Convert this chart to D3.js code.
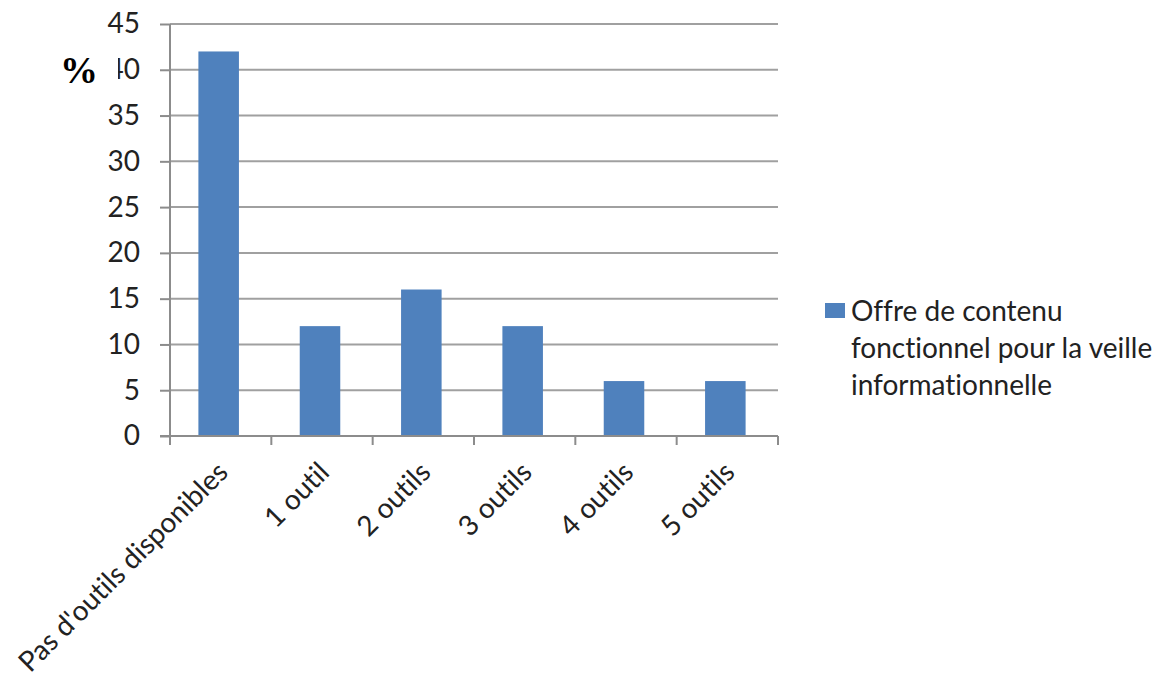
<!DOCTYPE html>
<html><head><meta charset="utf-8">
<script src="https://cdn.jsdelivr.net/npm/d3@7"></script>
<style>body{margin:0;background:#fff}svg{display:block}text{font-variant-ligatures:none;font-feature-settings:"liga" 0}</style>
</head><body>
<script>
const categories = ["Pas d'outils disponibles","1 outil","2 outils","3 outils","4 outils","5 outils"];
const values = [42, 12, 16, 12, 6, 6];
const yTicks = [0,5,10,15,20,25,30,35,40,45];
const seriesName = ["Offre de contenu","fonctionnel pour la veille","informationnelle"];
const yLabel = "%";

const W = 1167, H = 677;
const svg = d3.select("body").append("svg").attr("width", W).attr("height", H);
const font = "Lato, 'Open Sans', sans-serif";
const fs = 28;

const x = d3.scaleBand().domain(categories).range([170, 778]).paddingInner(0.6).paddingOuter(0.3);
const y = d3.scaleLinear().domain([0, 45]).range([436, 24]);

// gridlines
svg.append("g").selectAll("line").data(yTicks.filter(t => t > 0)).join("line")
  .attr("x1", 170).attr("x2", 778).attr("y1", d => y(d)).attr("y2", d => y(d))
  .attr("stroke", "#a0a0a0").attr("stroke-width", 2);

// y axis
const ya = svg.append("g").attr("transform", "translate(170,0)")
  .call(d3.axisLeft(y).tickValues(yTicks).tickSize(10).tickPadding(20));
ya.select(".domain").attr("stroke", "#8c8c8c").attr("stroke-width", 2).attr("d", `M0,${y(45)}V${y(0)}`);
ya.selectAll(".tick line").attr("stroke", "#8c8c8c").attr("stroke-width", 2);
ya.selectAll(".tick text").attr("font-family", font).attr("font-size", fs).attr("fill", "#222");

// bars
svg.append("g").selectAll("rect").data(values).join("rect")
  .attr("x", (d, i) => x(categories[i]) - 2).attr("width", x.bandwidth())
  .attr("y", d => y(d)).attr("height", d => y(0) - y(d))
  .attr("fill", "#4F81BD");

// x axis
const xEdges = d3.range(categories.length + 1).map(i => 170 + i * x.step());
svg.append("line").attr("x1", 160).attr("x2", 778).attr("y1", y(0)).attr("y2", y(0))
  .attr("stroke", "#8c8c8c").attr("stroke-width", 2);
svg.append("g").selectAll("line").data(xEdges).join("line")
  .attr("x1", d => d).attr("x2", d => d).attr("y1", y(0)).attr("y2", y(0) + 9)
  .attr("stroke", "#8c8c8c").attr("stroke-width", 2);
svg.append("g").selectAll("text").data(categories).join("text")
  .attr("transform", d => `translate(${x(d) + x.bandwidth() / 2 + 9},${y(0) + 38}) rotate(-45)`)
  .attr("text-anchor", "end").attr("font-family", font).attr("font-size", fs).attr("fill", "#222")
  .text(d => d);

// % label with white backing
svg.append("rect").attr("x", 52).attr("y", 50).attr("width", 66).attr("height", 38).attr("fill", "#fff");
svg.append("text").attr("x", 60).attr("y", 83).attr("font-family", "'Liberation Serif', 'Times New Roman', serif")
  .attr("font-weight", "bold").attr("font-size", 38).attr("fill", "#000").text(yLabel);

// legend
svg.append("rect").attr("x", 825).attr("y", 303).attr("width", 20).attr("height", 15).attr("fill", "#4F81BD");
svg.append("g").selectAll("text").data(seriesName).join("text")
  .attr("x", 851).attr("y", (d, i) => 321 + i * 37)
  .attr("font-family", font).attr("font-size", fs).attr("fill", "#222").text(d => d);
</script>
</body></html>
